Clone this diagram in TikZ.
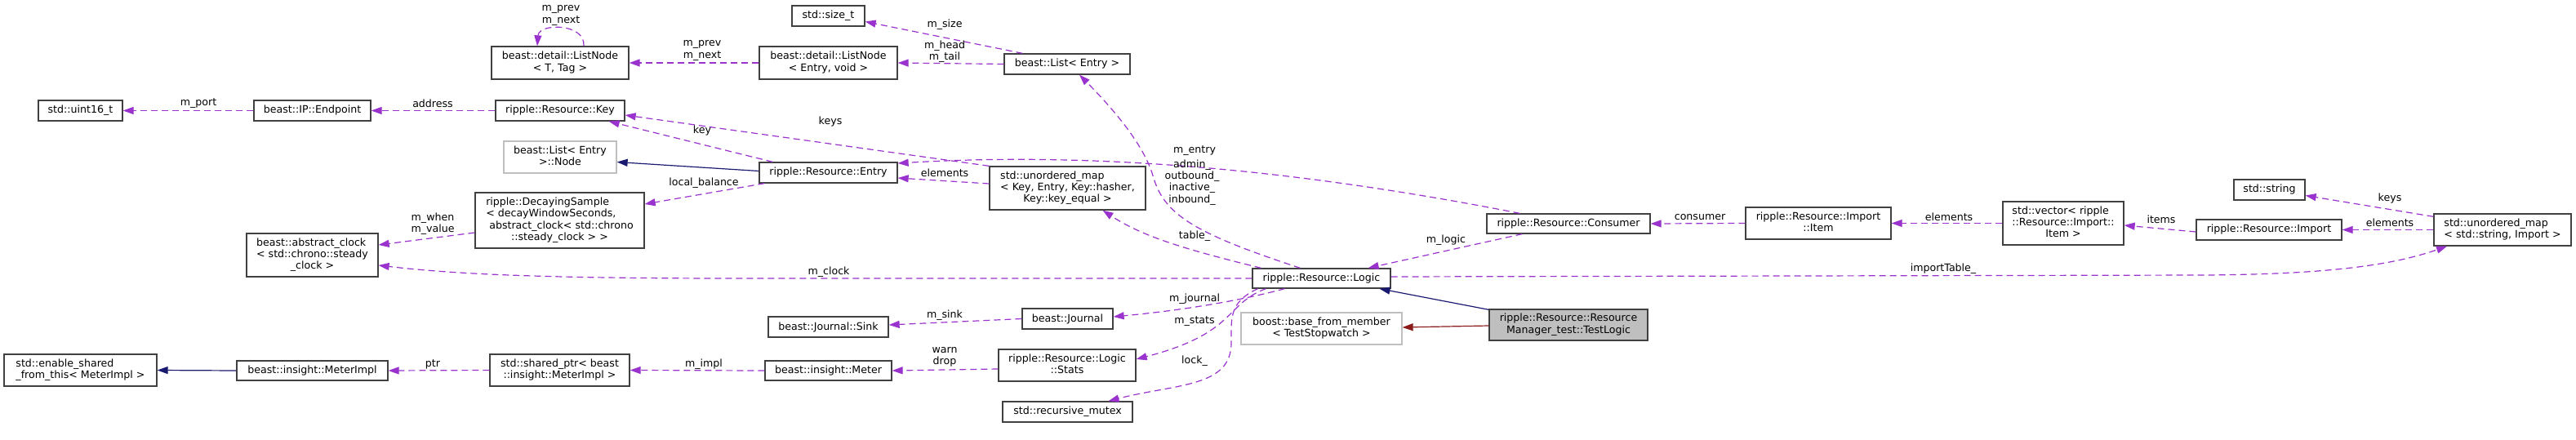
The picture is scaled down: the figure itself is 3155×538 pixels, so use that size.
\documentclass[tikz,border=0pt]{standalone}
\usepackage{fontspec}
\setmainfont{DejaVu Sans}
\usetikzlibrary{arrows.meta}
\definecolor{usec}{HTML}{9A32CD}
\definecolor{navyc}{HTML}{191970}
\definecolor{redc}{HTML}{8B1A1A}
\definecolor{boxc}{HTML}{404040}
\definecolor{grayb}{HTML}{BFBFBF}
\newcommand{\ml}[1]{\begin{tabular}{@{}l@{}}#1\end{tabular}}
\newcommand{\lc}[1]{\multicolumn{1}{@{}c@{}}{#1}}
\begin{document}
\begin{tikzpicture}[x=1pt,y=-1pt,
  every node/.style={font=\fontsize{12.6}{14.3}\selectfont, inner sep=0pt},
  cls/.style={draw=boxc, line width=1.3pt, fill=white},
  undoc/.style={draw=grayb, line width=1.3pt, fill=white},
  focus/.style={draw=boxc, line width=1.3pt, fill=grayb},
  lbl/.style={align=center},
  usage/.style={draw=usec, line width=1.2pt, dash pattern=on 8pt off 5pt, -{Triangle[length=13pt,width=9pt]}},
  inh/.style={draw=navyc, line width=1.2pt, -{Triangle[length=13pt,width=9pt]}},
  priv/.style={draw=redc, line width=1.2pt, -{Triangle[length=13pt,width=9pt]}}]
\useasboundingbox (0,0) rectangle (3155,538);

% nodes
\node[cls, minimum width=103pt, minimum height=25pt] (u16) at (98.5,135.5) {std::uint16\_t};
\node[cls, minimum width=143pt, minimum height=25pt] (ep) at (382.5,135.5) {beast::IP::Endpoint};
\node[cls, minimum width=168pt, minimum height=40pt] (lnT) at (686,77) {\ml{beast::detail::ListNode\\\lc{< T, Tag >}}};
\node[cls, minimum width=158pt, minimum height=25pt] (key) at (686,135.5) {ripple::Resource::Key};
\node[undoc, minimum width=138pt, minimum height=39pt] (lnode) at (686,192.5) {\ml{beast::List< Entry\\\lc{>::Node}}};
\node[cls, minimum width=207pt, minimum height=68pt] (decay) at (685.5,270) {\ml{ripple::DecayingSample\\< decayWindowSeconds,\\~abstract\_clock< std::chrono\\\lc{::steady\_clock > >}}};
\node[cls, minimum width=161pt, minimum height=53pt] (clock) at (382.5,312.5) {\ml{beast::abstract\_clock\\< std::chrono::steady\\\lc{\_clock >}}};
\node[cls, minimum width=187pt, minimum height=39pt] (esft) at (98.5,453.5) {\ml{std::enable\_shared\\\lc{\_from\_this< MeterImpl >}}};
\node[cls, minimum width=185pt, minimum height=24pt] (mimpl) at (382.5,454) {beast::insight::MeterImpl};
\node[cls, minimum width=171pt, minimum height=39pt] (shp) at (685.5,453.5) {\ml{std::shared\_ptr< beast\\\lc{::insight::MeterImpl >}}};
\node[cls, minimum width=89pt, minimum height=25pt] (szt) at (1014.5,19.5) {std::size\_t};
\node[cls, minimum width=169pt, minimum height=40pt] (lnE) at (1014.5,77) {\ml{beast::detail::ListNode\\\lc{< Entry, void >}}};
\node[cls, minimum width=169pt, minimum height=25pt] (entry) at (1014.5,211.5) {ripple::Resource::Entry};
\node[cls, minimum width=147pt, minimum height=25pt] (sink) at (1014.5,400.5) {beast::Journal::Sink};
\node[cls, minimum width=155pt, minimum height=24pt] (meter) at (1014.5,454) {beast::insight::Meter};
\node[cls, minimum width=154pt, minimum height=25pt] (listE) at (1307,78.5) {beast::List< Entry >};
\node[cls, minimum width=191pt, minimum height=53pt] (umk) at (1307.5,230.5) {\ml{std::unordered\_map\\< Key, Entry, Key::hasher,\\\lc{Key::key\_equal >}}};
\node[cls, minimum width=111pt, minimum height=25pt] (journal) at (1307.5,390.5) {beast::Journal};
\node[cls, minimum width=168pt, minimum height=39pt] (stats) at (1307,447.5) {\ml{ripple::Resource::Logic\\\lc{::Stats}}};
\node[cls, minimum width=159pt, minimum height=25pt] (mutex) at (1307.5,504.5) {std::recursive\_mutex};
\node[cls, minimum width=169pt, minimum height=24pt] (logic) at (1618.5,341) {ripple::Resource::Logic};
\node[undoc, minimum width=197pt, minimum height=39pt] (bfm) at (1618.5,402.5) {\ml{boost::base\_from\_member\\\lc{< TestStopwatch >}}};
\node[cls, minimum width=200pt, minimum height=24pt] (cons) at (1921,274) {ripple::Resource::Consumer};
\node[focus, minimum width=194pt, minimum height=38pt] (tl) at (1921,398) {\ml{ripple::Resource::Resource\\\lc{Manager\_test::TestLogic}}};
\node[cls, minimum width=178pt, minimum height=39pt] (item) at (2227,273.5) {\ml{ripple::Resource::Import\\\lc{::Item}}};
\node[cls, minimum width=148pt, minimum height=53pt] (vec) at (2527,273.5) {\ml{std::vector< ripple\\::Resource::Import::\\\lc{Item >}}};
\node[cls, minimum width=87pt, minimum height=25pt] (str) at (2779.5,232.5) {std::string};
\node[cls, minimum width=178pt, minimum height=25pt] (imp) at (2779,281.5) {ripple::Resource::Import};
\node[cls, minimum width=168pt, minimum height=39pt] (umS) at (3065,281.5) {\ml{std::unordered\_map\\\lc{< std::string, Import >}}};

% edges
\draw[usage] (ep.west) -- (u16.east);
\draw[usage] (key.west) -- (ep.east);
\draw[usage] ([xshift=29pt]lnT.north) .. controls (717,28) and (660,28) .. ([xshift=-28pt]lnT.north);
\draw[usage] (lnE.west) -- (lnT.east);
\draw[usage] ([xshift=23pt]listE.north west) -- ([yshift=-7pt]szt.east);
\draw[usage] (listE.west) -- (lnE.east);
\draw[usage] ([xshift=17pt]entry.north west) -- ([xshift=-20pt]key.south east);
\draw[inh] ([yshift=2pt]entry.west) -- ([yshift=-6pt]lnode.east);
\draw[usage] ([xshift=7pt]entry.south west) -- ([yshift=20pt]decay.east);
\draw[usage] ([yshift=-15pt]decay.west) -- ([yshift=12.5pt]clock.east);
\draw[usage] (umk.north west) -- ([yshift=-5.5pt]key.east);
\draw[usage] ([yshift=5.5pt]umk.west) -- ([yshift=-6.5pt]entry.east);
\draw[usage] ([xshift=41pt]cons.north west) .. controls (1600,210) and (1350,185) .. ([yshift=11.5pt]entry.east);
\draw[usage] ([xshift=-26pt]logic.north) .. controls (1460,285) and (1425,262) .. (1412,215) .. controls (1400,175) and (1360,130) .. ([xshift=15pt]listE.south);
\draw[usage] ([xshift=-74pt]logic.north) .. controls (1450,305) and (1400,290) .. ([xshift=43pt]umk.south);
\draw[usage] (logic.west) -- (900,341) .. controls (650,341) and (550,335) .. ([yshift=-12.5pt]clock.east);
\draw[usage] ([xshift=-45pt]logic.south) .. controls (1520,368) and (1450,380) .. ([yshift=2.5pt]journal.east);
\draw[usage] (journal.west) -- ([yshift=2.5pt]sink.east);
\draw[usage] ([xshift=-68pt]logic.south) .. controls (1500,372) and (1515,408) .. ([yshift=7.5pt]stats.east);
\draw[usage] ([yshift=-4.5pt]stats.west) -- (meter.east);
\draw[usage] (meter.west) -- (shp.east);
\draw[usage] (shp.west) -- (mimpl.east);
\draw[inh] (mimpl.west) -- (esft.east);
\draw[usage] ([xshift=-78pt]logic.south) .. controls (1505,370) and (1508,390) .. (1508,420) .. controls (1508,475) and (1440,470) .. ([xshift=50pt]mutex.north);
\draw[usage] ([xshift=44pt]cons.south west) -- ([xshift=-28pt]logic.north east);
\draw[usage] (item.west) -- (cons.east);
\draw[usage] (vec.west) -- (item.east);
\draw[usage] ([yshift=-2.5pt]imp.west) -- ([yshift=-2.5pt]vec.east);
\draw[usage] ([yshift=-4pt]umS.north west) -- ([yshift=-7pt]str.east);
\draw[usage] (umS.west) -- (imp.east);
\draw[usage] ([yshift=2pt]logic.east) -- (2700,337) .. controls (2850,336) and (2930,325) .. ([xshift=-68pt]umS.south);
\draw[inh] ([yshift=-1pt]tl.north west) -- ([xshift=71pt]logic.south);
\draw[priv] ([yshift=-1pt]tl.west) -- ([yshift=1.5pt]bfm.east);

% edge labels
\node[lbl] (l1) at (243,127) {m\_port};
\node[lbl] (l2) at (530,127) {address};
\node[lbl] (l3) at (687,19) {m\_prev\\m\_next};
\node[lbl] (l4) at (860,62) {m\_prev\\m\_next};
\node[lbl] (l5) at (1157,30) {m\_size};
\node[lbl] (l6) at (1157,63) {m\_head\\m\_tail};
\node[lbl] (l7) at (1017,149) {keys};
\node[lbl] (l8) at (860,160) {key};
\node[lbl] (l9) at (862,224) {local\_balance};
\node[lbl] (l10) at (1157,212) {elements};
\node[lbl] (l11) at (530,274) {m\_when\\m\_value};
\node[lbl] (l12) at (1463,185) {m\_entry};
\node[lbl] (l13) at (1460,223.5) {admin\_\\outbound\_\\inactive\_\\inbound\_};
\node[lbl] (l14) at (1463,289) {table\_};
\node[lbl] (l15) at (1015,333) {m\_clock};
\node[lbl] (l16) at (1157,386) {m\_sink};
\node[lbl] (l17) at (1463,366) {m\_journal};
\node[lbl] (l18) at (1463,394) {m\_stats};
\node[lbl] (l19) at (1463,442) {lock\_};
\node[lbl] (l20) at (1157,437) {warn\\drop};
\node[lbl] (l21) at (862,446) {m\_impl};
\node[lbl] (l22) at (530,446) {ptr};
\node[lbl] (l23) at (1771,294) {m\_logic};
\node[lbl] (l24) at (2082,266) {consumer};
\node[lbl] (l25) at (2387,266) {elements};
\node[lbl] (l26) at (2647,269) {items};
\node[lbl] (l27) at (2927,243) {keys};
\node[lbl] (l28) at (2927,273) {elements};
\node[lbl] (l29) at (2380,329) {importTable\_};
\end{tikzpicture}
\end{document}
